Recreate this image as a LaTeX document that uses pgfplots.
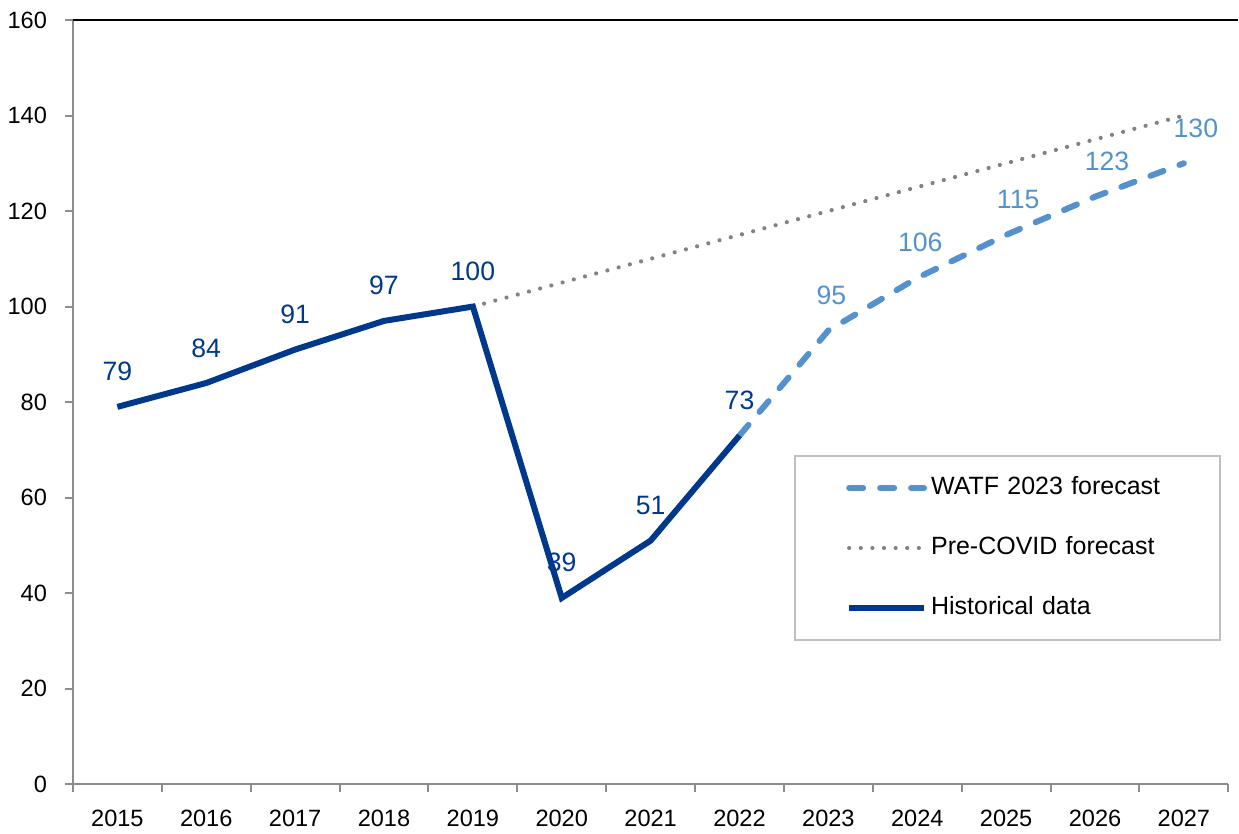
\documentclass[border=0pt]{standalone}
\usepackage{pgfplots}
\pgfplotsset{compat=1.18}
\usepackage{fontspec}
\setmainfont{Liberation Sans}
\definecolor{darkblue}{RGB}{0,56,140}
\definecolor{lightblue}{RGB}{85,145,205}
\definecolor{dotgray}{RGB}{130,130,130}
\definecolor{axgray}{RGB}{140,140,140}
\begin{document}
\begin{tikzpicture}
\begin{axis}[
  scale only axis,
  width=578.25pt, height=382.5pt,
  xmin=-0.5, xmax=12.5, ymin=0, ymax=160,
  axis x line*=bottom, axis y line*=left,
  axis line style={axgray, line width=1pt},
  xtick={0,...,12},
  xticklabels={2015,2016,2017,2018,2019,2020,2021,2022,2023,2024,2025,2026,2027},
  major x tick style={draw=none},
  minor xtick={-0.5,0.5,...,12.5},
  minor tick length=4pt,
  minor x tick style={axgray, line width=1pt},
  ytick={0,20,...,160},
  major tick length=4pt,
  tick align=outside,
  major y tick style={axgray, line width=1pt},
  /pgf/number format/assume math mode=true,
  tick label style={font=\fontsize{11.8}{13}\selectfont, text=black},
  yticklabel style={xshift=-5.5pt},
  xticklabel style={yshift=-5.5pt},
  clip=false,
  legend style={
    at={(0.6243,0.4314)}, anchor=north west,
    draw=black!25, line width=1pt,
    font=\fontsize{12.5}{14}\selectfont,
    row sep=14.5pt, inner xsep=25.5pt, inner ysep=8.5pt,
    nodes={text width=117pt, text height=9pt, text depth=2.5pt, align=left},
  },
  legend cell align=left,
  legend image code/.code={\draw[#1] (0pt,0pt) -- (37.5pt,0pt);},
]
% Forecast (dashed)
\addplot[lightblue, line width=3pt, line cap=round, dash pattern=on 7pt off 8.5pt] coordinates {
  (7,73) (8,95) (9,106) (10,115) (11,123) (12,130)};
\addlegendentry{WATF 2023 forecast}
% Pre-COVID (dotted)
\addplot[dotgray, line width=2.1pt, line cap=round, dash pattern=on 0.01pt off 5.8pt] coordinates {
  (4,100) (5,105) (6,110) (7,115) (8,120) (9,125) (10,130) (11,135) (12,140)};
\addlegendentry{Pre-COVID forecast}
% Historical
\addplot[darkblue, line width=3pt, line join=miter] coordinates {
  (0,79) (1,84) (2,91) (3,97) (4,100) (5,39) (6,51) (7,73)};
\addlegendentry{Historical data}
% labels historical
\addplot[draw=none, forget plot,
  nodes near coords, point meta=explicit symbolic,
  every node near coord/.append style={anchor=base, yshift=13pt, text=darkblue, font=\fontsize{13.3}{15}\selectfont}]
  coordinates {(0,79)[79] (1,84)[84] (2,91)[91] (3,97)[97] (4,100)[100] (5,39)[39] (6,51)[51] (7,73)[73]};
% labels forecast
\addplot[draw=none, forget plot,
  nodes near coords, point meta=explicit symbolic,
  every node near coord/.append style={anchor=base, yshift=13pt, xshift=1.5pt, text=lightblue, font=\fontsize{13.3}{15}\selectfont}]
  coordinates {(8,95)[95] (9,106)[106]};
\addplot[draw=none, forget plot,
  nodes near coords, point meta=explicit symbolic,
  every node near coord/.append style={anchor=base, yshift=13pt, xshift=6pt, text=lightblue, font=\fontsize{13.3}{15}\selectfont}]
  coordinates {(10,115)[115] (11,123)[123] (12,130)[130]};
\draw[black, line width=1.2pt] (rel axis cs:0,1) -- ([xshift=4.75pt]rel axis cs:1,1);
\end{axis}
\path (current axis.south west) ++(-36.5pt,-22pt) rectangle ++(619.5pt,414.5pt);
\end{tikzpicture}
\end{document}
